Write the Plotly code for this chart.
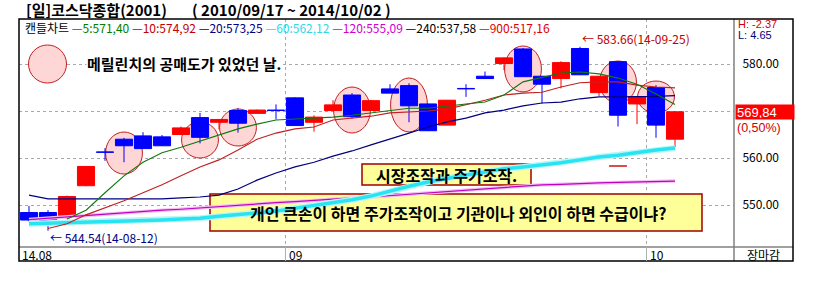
import plotly.graph_objects as go

# ---------------- data ----------------
days = list(range(1, 36))
opens = [548.4, 548.4, 547.7, 554.1, 561.3, 564.0, 564.7, 564.5, 565.0, 568.6,
         567.6, 570.1, 569.5, 570.2, 572.8, 567.6, 570.1, 573.4, 570.1, 574.7,
         575.4, 571.5, 567.0, 574.8, 577.4, 580.1, 583.2, 577.4, 576.9, 583.3,
         573.9, 580.5, 571.5, 575.0, 564.0]
highs = [549.8, 548.9, 552.0, 558.3, 562.1, 564.3, 565.5, 564.9, 566.7, 569.6,
         568.3, 570.6, 570.3, 571.4, 572.9, 569.1, 572.3, 573.8, 572.3, 575.7,
         575.9, 571.5, 572.3, 575.7, 578.4, 581.4, 583.4, 577.4, 580.6, 583.66,
         577.4, 580.5, 573.0, 575.5, 569.84]
lows = [546.5, 544.54, 547.0, 554.0, 559.4, 559.1, 562.0, 562.6, 565.0, 563.1,
        566.1, 565.4, 569.5, 568.2, 566.9, 565.6, 570.1, 568.4, 570.1, 573.8,
        567.6, 565.8, 567.0, 573.0, 576.9, 578.7, 577.3, 571.6, 574.8, 577.7,
        573.2, 566.7, 567.2, 564.3, 562.3]
closes = [546.8, 546.0, 551.8, 558.2, 561.2, 562.6, 562.0, 562.6, 566.4, 564.4,
          568.2, 567.4, 570.2, 570.1, 566.9, 568.7, 571.3, 568.8, 572.2, 573.8,
          571.1, 565.8, 572.3, 574.7, 576.9, 581.3, 577.3, 575.7, 580.3, 577.7,
          577.4, 569.1, 573.0, 567.0, 569.84]
ma5 = [None, None, 547.0, 548.9, 552.6, 556.2, 559.1, 561.1, 562.3, 563.6,
       564.9, 566.2, 567.2, 568.1, 568.3, 568.5, 568.7, 569.1, 569.6, 570.2,
       570.6, 570.6, 571.1, 571.5, 571.9, 573.4, 576.2, 577.2, 578.1, 578.3,
       577.9, 577.0, 575.7, 573.6, 571.4]
ma10 = [None, 545.0, 546.0, 547.9, 549.4, 550.9, 552.6, 554.3, 556.2, 558.1,
        559.6, 561.7, 564.0, 565.3, 566.2, 566.6, 568.1, 568.5, 568.9, 569.6,
        569.8, 570.0, 570.4, 571.3, 572.3, 573.4, 573.8, 574.0, 575.1, 576.0,
        576.2, 576.2, 575.5, 575.1, 574.92]
ma20 = [552.1, 551.3, 551.3, 551.3, 551.3, 551.3, 551.3, 551.3, 551.5, 551.7,
        552.1, 553.4, 555.3, 556.8, 558.1, 559.1, 560.4, 561.5, 562.8, 564.0,
        565.3, 566.6, 567.7, 568.5, 569.6, 570.2, 571.1, 571.7, 571.9, 572.6,
        573.0, 573.0, 573.0, 573.1, 573.25]
ma60 = [546.0, 546.1, 546.2, 546.3, 546.4, 546.5, 546.6, 546.8, 547.0, 547.2,
        547.6, 547.9, 548.3, 548.7, 549.3, 549.8, 550.4, 551.1, 551.9, 553.0,
        554.0, 554.9, 555.7, 556.4, 557.0, 557.7, 558.1, 558.5, 559.0, 559.6,
        560.2, 560.6, 561.2, 561.7, 562.12]
ma120 = [546.9, 547.2, 547.5, 547.8, 548.1, 548.3, 548.6, 548.9, 549.1, 549.4,
         549.7, 550.0, 550.2, 550.5, 550.7, 551.0, 551.2, 551.5, 551.7, 552.0,
         552.3, 552.6, 552.8, 553.1, 553.4, 553.7, 554.0, 554.3, 554.4, 554.6,
         554.7, 554.8, 554.9, 555.0, 555.09]
legend_items = [("5", "571,40", "#008000"), ("10", "574,92", "#c00000"),
                ("20", "573,25", "#000080"), ("60", "562,12", "#30d8e8"),
                ("120", "555,09", "#d000d0"), ("240", "537,58", "#000000"),
                ("900", "517,16", "#e00000")]
month_starts = [14.5, 33.5]
month_labels = ["14.08", "09", "10"]
price_ticks = [550, 560, 570, 580]
price_ticktext = ["550.00", "560.00", "", "580.00"]
marked_days = [6, 10, 12, 18, 21, 27, 32, 34]
marked_centers = [561.06, 563.83, 566.49, 570.21, 571.28, 578.94, 576.17, 572.98]
marked_halfh = [4.47, 3.83, 3.94, 4.89, 5.74, 4.89, 4.47, 3.40]
last_price = "569,84"
last_change = "(0,50%)"
high_info = "H: -2.37"
low_info = "L: 4.65"
period_high = ("← 583.66(14-09-25)", 30, 583.66)
period_low = ("← 544.54(14-08-12)", 2, 544.54)
mark_dash = (32, 558.3)

# ---------------- geometry ----------------
W, H = 814, 282
L, R, T, B = 19, 80, 19, 35
PW, PH = W - L - R, H - T - B
XR = [0.4737, 38.105]
YR = [541.064, 589.574]
FONT = "Noto Sans CJK KR"
LAT = "Liberation Sans"

def xd(p):
    return XR[0] + (p - L) / PW * (XR[1] - XR[0])

def yd(p):
    return YR[1] - (p - T) / PH * (YR[1] - YR[0])

def pxp(p):
    return (p - L) / PW

def pyp(p):
    return (H - B - p) / PH

UP, DN = "#ff0000", "#0000ff"
up = [c >= o for o, c in zip(opens, closes)]

fig = go.Figure()

def wick(mask):
    xs, ys = [], []
    for d, h, l, m in zip(days, highs, lows, mask):
        if m:
            xs += [d, d, None]
            ys += [l, h, None]
    return xs, ys

for mask, col in ((up, UP), ([not u for u in up], DN)):
    xs, ys = wick(mask)
    fig.add_trace(go.Scatter(x=xs, y=ys, mode="lines", line=dict(color=col, width=1),
                             hoverinfo="skip", showlegend=False))
    bx = [d for d, m in zip(days, mask) if m]
    bb = [min(o, c) for o, c, m in zip(opens, closes, mask) if m]
    bh = [abs(c - o) for o, c, m in zip(opens, closes, mask) if m]
    fig.add_trace(go.Bar(x=bx, y=bh, base=bb, width=0.9,
                         marker=dict(color=col, line=dict(color=col, width=1)),
                         showlegend=False))

# moving averages
fig.add_trace(go.Scatter(x=days, y=ma120, mode="lines", line=dict(color="#f4c0f4", width=3.5),
                         showlegend=False, hoverinfo="skip"))
fig.add_trace(go.Scatter(x=days, y=ma120, mode="lines", line=dict(color="#c000c0", width=1.2),
                         showlegend=False))
fig.add_trace(go.Scatter(x=days, y=ma60, mode="lines", line=dict(color="#b8f6fa", width=6),
                         showlegend=False, hoverinfo="skip"))
fig.add_trace(go.Scatter(x=days, y=ma60, mode="lines", line=dict(color="#28e4f0", width=3.5),
                         showlegend=False))
fig.add_trace(go.Scatter(x=days, y=ma20, mode="lines", line=dict(color="#000080", width=1.2),
                         showlegend=False))
fig.add_trace(go.Scatter(x=days, y=ma10, mode="lines", line=dict(color="#c02020", width=1.1),
                         showlegend=False))
fig.add_trace(go.Scatter(x=days, y=ma5, mode="lines", line=dict(color="#107810", width=1.1),
                         showlegend=False))
fig.add_trace(go.Scatter(x=[mark_dash[0] - 0.47, mark_dash[0] + 0.47], y=[mark_dash[1]] * 2,
                         mode="lines", line=dict(color="#d01010", width=1.5), showlegend=False))

shapes = []
# highlight ellipses
for d, c, hh in zip(marked_days, marked_centers, marked_halfh):
    shapes.append(dict(type="circle", xref="x", yref="y", layer="between",
                       x0=d - 0.97, x1=d + 0.97, y0=c - hh, y1=c + hh,
                       fillcolor="#ffd6d6", line=dict(color="#c02020", width=1)))
# legend circle
shapes.append(dict(type="circle", xref="x", yref="y", layer="between",
                   x0=xd(28.5), x1=xd(66.5), y0=yd(83), y1=yd(45),
                   fillcolor="#ffd6d6", line=dict(color="#c02020", width=1)))
# yellow boxes
for (x0, y0, x1, y1) in [(362, 164, 531, 185), (210, 194, 702, 231)]:
    shapes.append(dict(type="rect", xref="x", yref="y", layer="between",
                       x0=xd(x0), x1=xd(x1), y0=yd(y1), y1=yd(y0),
                       fillcolor="#ffff99", line=dict(color="#a00000", width=1.5)))
# frame
shapes += [
    dict(type="line", xref="paper", yref="paper", x0=pxp(734), x1=pxp(734), y0=pyp(19), y1=pyp(261),
         line=dict(color="#808080", width=1.5), layer="above"),
    dict(type="line", xref="paper", yref="paper", x0=pxp(19), x1=pxp(793), y0=pyp(247), y1=pyp(247),
         line=dict(color="#808080", width=1.5), layer="above"),
    dict(type="rect", xref="paper", yref="paper", x0=pxp(19), x1=pxp(793), y0=pyp(261), y1=pyp(19),
         line=dict(color="#000000", width=1.5), layer="above"),
]
for m in month_starts:
    xp = L + (m - XR[0]) / (XR[1] - XR[0]) * PW
    shapes.append(dict(type="line", xref="paper", yref="paper", x0=pxp(xp), x1=pxp(xp),
                       y0=pyp(247), y1=pyp(261), line=dict(color="#b0b0b0", width=1), layer="above"))

ann = []
def text(t, x, y, size=12, color="#000000", xanchor="left", weight="normal", family=FONT, **kw):
    ann.append(dict(text=t, x=pxp(x), y=pyp(y), xref="paper", yref="paper",
                    xanchor=xanchor, yanchor="middle", showarrow=False, borderpad=kw.pop("borderpad", 0),
                    font=dict(family=family, size=size, color=color, weight=weight), **kw))

text("[일]코스닥종합(2001)", 25, 9.5, size=15, weight="bold")
text("( 2010/09/17 ~ 2014/10/02 )", 191, 9.5, size=15, weight="bold")
leg = "캔들차트 " + " ".join(f'<span style="color:{c}">—{n}:{v}</span>' for n, v, c in legend_items)
text(leg, 24, 27, size=12)
text("메릴린치의 공매도가 있었던 날.", 86, 63, size=15, weight="bold", bgcolor="#ffffff")
text("시장조작과 주가조작.", 446.5, 174.5, size=16, xanchor="center", weight="bold")
text("개인 큰손이 하면 주가조작이고 기관이나 외인이 하면 수급이냐?", 458, 212.5, size=16,
     xanchor="center", weight="bold")
# period high/low markers
for (t, d, p), col in ((period_high, "#c00000"), (period_low, "#000080")):
    ann.append(dict(text=t, x=d + 0.05, y=p, xref="x", yref="y", xanchor="left",
                    yanchor="middle", showarrow=False, borderpad=0,
                    font=dict(family=FONT, size=12, color=col),
                    yshift=-7 if p < 560 else 8))
# right column
text(high_info, 737, 23.5, size=11, color="#d00000", family=LAT)
text(low_info, 737, 35.5, size=11, color="#000080", family=LAT)
text(last_price, 735, 112, size=13, color="#ffffff", bgcolor="#ff0000", width=56, height=12,
     align="left", borderpad=1, family=LAT)
text(last_change, 736, 128, size=12.5, color="#d00000", family=LAT)
text("장마감", 764, 254, size=12, xanchor="center")
# date labels
text(month_labels[0], 21, 254, size=12)
for m, lab in zip(month_starts, month_labels[1:]):
    xp = L + (m - XR[0]) / (XR[1] - XR[0]) * PW
    text(lab, xp + 2, 254, size=12)

fig.update_layout(
    width=W, height=H, margin=dict(l=L, r=R, t=T, b=B, pad=0),
    paper_bgcolor="#ffffff", plot_bgcolor="#ffffff",
    barmode="overlay", showlegend=False, hovermode=False,
    shapes=shapes, annotations=ann,
    font=dict(family=FONT, size=12, color="#000000"),
    xaxis=dict(range=XR, tickvals=month_starts, showticklabels=False, showgrid=True,
               gridcolor="#a8a8a8", griddash="dot", gridwidth=1, zeroline=False,
               showline=False, ticks="", fixedrange=True),
    yaxis=dict(range=YR, side="right", tickvals=price_ticks, ticktext=price_ticktext,
               showgrid=True, gridcolor="#a8a8a8", griddash="dot", gridwidth=1,
               zeroline=False, showline=False, ticks="outside", ticklen=5,
               tickcolor="rgba(0,0,0,0)", tickfont=dict(family=FONT, size=12, color="#000000"),
               fixedrange=True),
)

fig.write_html("out.html")
